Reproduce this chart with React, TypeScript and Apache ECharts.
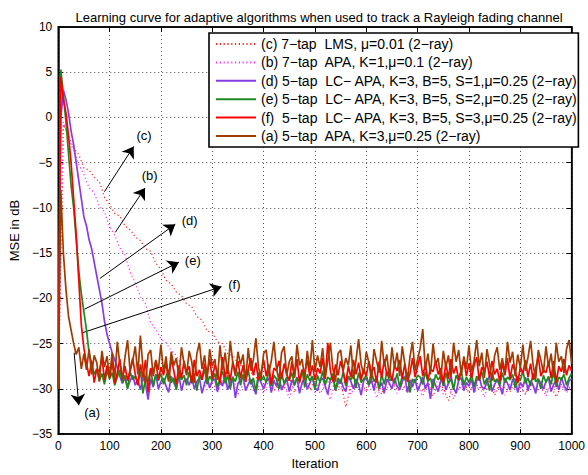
import React, { useEffect, useRef } from "react";
import * as echarts from "echarts";

// Iteration spacing of the sampled curves
const SOLID_STEP = 5;
const DOTTED_STEP = 10;

const xTicks = { min: 0, max: 1000, interval: 100 };
const yTicks = { min: -35, max: 10, interval: 5 };

const seriesNames = [
  "(c) 7\u2212tap  LMS, \u03bc=0.01 (2\u2212ray)",
  "(b) 7\u2212tap  APA, K=1,\u03bc=0.1 (2\u2212ray)",
  "(d) 5\u2212tap  LC\u2212 APA, K=3, B=5, S=1,\u03bc=0.25 (2\u2212ray)",
  "(e) 5\u2212tap  LC\u2212 APA, K=3, B=5, S=2,\u03bc=0.25 (2\u2212ray)",
  "(f)  5\u2212tap  LC\u2212 APA, K=3, B=5, S=3,\u03bc=0.25 (2\u2212ray)",
  "(a) 5\u2212tap  APA, K=3,\u03bc=0.25 (2\u2212ray)",
];

// (c) LMS, sampled every 10 iterations
const lmsC = [
  -30, -0.8, -2.0, -3.4, -4.1, -5.6, -5.8, -6.6, -7.1, -8.8,
  -9.6, -10.6, -10.9, -12.0, -12.4, -13.2, -13.6, -14.5, -14.8, -16.1,
  -16.8, -18.0, -18.4, -19.3, -19.7, -20.6, -20.9, -22.0, -22.4, -23.6,
  -23.8, -24.8, -25.0, -26.1, -26.3, -27.2, -27.6, -28.4, -28.2, -29.1,
  -29.6, -28.8, -30.2, -29.4, -29.9, -28.7, -30.4, -29.3, -29.8, -30.1,
  -29.0, -30.5, -29.6, -28.9, -30.3, -29.2, -32.0, -29.7, -30.0, -29.4,
  -30.2, -29.1, -29.8, -30.6, -29.3, -28.9, -30.1, -29.6, -30.4, -29.0,
  -29.7, -30.3, -29.2, -30.8, -29.5, -29.9, -31.3, -29.4, -30.0, -29.1,
  -30.5, -29.3, -29.8, -30.2, -29.0, -30.7, -29.6, -29.9, -30.3, -29.2,
  -29.8, -30.6, -29.4, -30.0, -29.1, -30.4, -29.7, -30.9, -29.5, -30.1,
  -29.6,
];

// (b) APA K=1, sampled every 10 iterations
const apaK1B = [
  -30, -0.5, -2.3, -3.6, -5.2, -6.3, -7.8, -8.3, -9.8, -10.4,
  -12.1, -13.0, -14.4, -15.2, -17.1, -18.3, -19.8, -20.6, -22.7, -23.4,
  -24.5, -24.9, -25.8, -26.3, -27.4, -28.1, -28.9, -29.6, -28.7, -30.1,
  -29.2, -30.4, -29.0, -29.8, -28.6, -30.6, -29.5, -28.9, -30.2, -29.7,
  -30.5, -29.1, -28.8, -30.3, -29.6, -31.0, -29.2, -30.0, -28.7, -29.9,
  -30.4, -29.3, -29.8, -31.2, -29.0, -30.1, -28.9, -30.6, -29.5, -29.8,
  -30.3, -29.1, -31.0, -29.6, -30.0, -28.8, -30.5, -29.4, -30.2, -29.0,
  -29.7, -30.8, -29.3, -30.1, -28.9, -30.6, -29.5, -31.1, -29.8, -30.0,
  -29.2, -30.4, -29.7, -30.9, -29.0, -30.3, -29.6, -30.7, -29.4, -30.1,
  -29.9, -30.5, -29.1, -30.2, -29.8, -30.8, -29.3, -30.0, -29.6, -30.4,
  -29.8,
];

// (d) LC-APA S=1, sampled every 5 iterations
const lcApaS1D = [
  -30, 0, 3, 2, 0.5, -1.5, -3, -5, -7, -9, -11,
  -12, -13.5, -14.5, -16, -17.5, -19, -20.5, -22.5, -24, -25,
  -26, -26.8, -27.6, -28.6, -29.4, -28.8, -29.9, -29.1, -28.5, -29.6,
  -29.0, -30.1, -28.7, -29.5, -31.2, -28.9, -29.8, -28.4, -30.0, -29.2,
  -28.8, -29.7, -30.4, -28.6, -29.3, -29.9, -28.5, -30.2, -29.1, -28.9,
  -29.6, -28.7, -30.0, -29.2, -28.8, -30.5, -29.4, -28.6, -29.9, -29.1,
  -28.9, -30.3, -29.0, -29.7, -28.5, -30.1, -29.3, -28.8, -31.0, -29.4,
  -29.0, -28.6, -30.2, -29.5, -28.9, -29.8, -30.6, -28.7, -29.3, -30.0,
  -29.2, -28.8, -30.4, -29.1, -29.7, -28.6, -30.1, -29.5, -28.9, -30.3,
  -29.0, -29.6, -28.7, -30.5, -29.3, -28.8, -30.0, -29.4, -28.6, -29.9,
  -30.2, -29.1, -28.8, -29.7, -30.6, -29.0, -28.7, -30.1, -29.4, -28.9,
  -29.8, -30.3, -28.6, -29.2, -30.0, -28.9, -29.5, -30.7, -29.1, -28.8,
  -29.6, -29.0, -30.2, -28.7, -29.9, -29.3, -30.5, -28.9, -29.4, -30.0,
  -28.8, -29.7, -30.1, -29.2, -28.6, -30.4, -29.0, -29.8, -28.9, -30.2,
  -29.5, -28.7, -30.0, -29.3, -31.1, -28.9, -29.6, -30.3, -29.1, -28.8,
  -30.1, -29.4, -28.6, -29.9, -30.5, -29.0, -28.8, -30.2, -29.3, -29.7,
  -28.9, -30.4, -29.1, -28.7, -29.8, -30.0, -29.2, -28.6, -30.3, -29.5,
  -29.0, -29.7, -30.6, -28.8, -29.4, -30.1, -29.0, -28.9, -30.4, -29.3,
  -29.8, -28.7, -30.2, -29.1, -29.6, -30.5, -28.9, -29.4, -30.0, -29.2,
  -28.8, -30.3, -29.5, -29.0, -30.1, -28.7, -29.6, -30.2, -29.1, -28.9,
];

// (e) LC-APA S=2, sampled every 5 iterations
const lcApaS2E = [
  -30, 5.3, 2.5, -0.5, -4, -7.5, -10, -13.5, -17, -19.5, -21.5,
  -23.5, -26, -27.2, -28.4, -27.8, -29.1, -28.3, -29.5, -28.0, -28.9,
  -28.2, -29.6, -28.7, -27.9, -29.3, -28.5, -30.0, -28.1, -29.0, -28.6,
  -29.4, -28.0, -30.5, -28.8, -29.2, -27.8, -29.7, -28.4, -29.1, -28.3,
  -29.5, -28.6, -27.9, -29.3, -28.8, -30.1, -28.2, -29.0, -28.5, -29.6,
  -28.1, -29.4, -28.7, -30.2, -28.4, -29.0, -27.8, -29.5, -28.6, -29.1,
  -28.3, -29.8, -28.9, -28.0, -29.4, -28.5, -30.0, -28.7, -29.2, -28.1,
  -29.6, -28.4, -29.0, -27.9, -29.5, -28.8, -30.3, -28.2, -29.1, -28.6,
  -29.3, -28.0, -29.7, -28.5, -28.9, -30.0, -28.3, -29.4, -28.7, -29.0,
  -28.2, -29.6, -28.8, -29.2, -27.9, -29.8, -28.4, -29.1, -28.6, -30.1,
  -28.5, -29.3, -28.0, -29.5, -28.7, -29.0, -28.3, -30.2, -28.8, -29.4,
  -28.1, -29.7, -28.6, -29.0, -28.4, -29.9, -28.2, -29.3, -28.9, -28.5,
  -29.6, -28.0, -29.2, -28.7, -30.0, -28.4, -29.5, -28.1, -29.1, -28.8,
  -29.4, -28.3, -29.8, -28.6, -29.0, -28.2, -30.4, -28.9, -29.3, -28.5,
  -28.7, -29.5, -28.1, -29.2, -28.8, -29.9, -28.4, -29.0, -28.6, -29.7,
  -28.2, -29.4, -28.9, -30.1, -28.5, -29.1, -28.0, -29.6, -28.7, -29.3,
  -28.4, -29.8, -28.6, -29.0, -28.1, -29.5, -28.8, -30.2, -28.3, -29.2,
  -28.9, -29.6, -28.2, -29.3, -28.7, -29.0, -28.4, -29.9, -28.6, -29.1,
  -28.0, -29.4, -28.8, -29.7, -28.3, -29.2, -28.9, -30.0, -28.5, -29.3,
  -28.6, -29.5, -28.1, -29.8, -28.7, -29.0, -28.4, -29.6, -28.8, -28.3,
];

// (f) LC-APA S=3, sampled every 5 iterations
const lcApaS3F = [
  -30, 4.5, 2, 0.5, -2, -5, -9, -13, -18, -23, -25.5,
  -27.2, -28.6, -26.9, -29.3, -27.8, -28.1, -26.5, -29.0, -27.4, -28.8,
  -27.0, -29.4, -28.2, -26.7, -28.9, -27.5, -29.1, -27.9, -26.6, -28.4,
  -29.6, -27.3, -28.7, -26.8, -30.4, -27.7, -28.3, -26.9, -29.0, -27.6,
  -28.5, -27.1, -29.2, -26.6, -28.0, -29.5, -27.4, -28.8, -26.9, -28.2,
  -27.5, -29.3, -26.8, -28.6, -27.9, -29.0, -27.2, -28.4, -26.7, -28.9,
  -27.3, -28.1, -29.4, -26.5, -28.7, -27.6, -29.1, -27.0, -28.3, -26.9,
  -28.8, -27.4, -29.2, -27.8, -26.6, -28.5, -27.1, -29.0, -28.2, -26.8,
  -28.6, -27.3, -29.5, -27.7, -28.0, -26.9, -28.9, -27.2, -28.4, -29.1,
  -27.0, -28.7, -26.7, -29.3, -27.9, -28.2, -26.8, -28.6, -27.4, -29.0,
  -27.7, -28.3, -26.6, -28.9, -24.9, -28.0, -29.2, -27.3, -28.5, -26.9,
  -28.1, -29.4, -27.5, -28.7, -26.8, -28.4, -27.1, -29.0, -27.8, -28.6,
  -26.9, -28.2, -27.6, -29.3, -27.0, -28.8, -26.7, -28.5, -27.9, -29.1,
  -27.4, -28.0, -26.8, -28.9, -27.2, -29.2, -28.3, -26.6, -28.7, -27.5,
  -26.4, -28.6, -27.3, -29.0, -27.8, -28.1, -26.9, -28.4, -27.7, -29.3,
  -27.1, -28.9, -26.7, -28.3, -27.5, -29.0, -27.9, -26.8, -28.6, -27.2,
  -28.8, -27.4, -26.5, -29.1, -27.6, -28.2, -27.0, -28.7, -26.9, -28.4,
  -27.8, -29.2, -27.1, -28.5, -26.6, -28.9, -27.3, -28.0, -29.4, -27.6,
  -28.3, -26.8, -28.7, -27.2, -29.0, -27.7, -26.4, -28.6, -27.9, -28.2,
  -27.0, -28.8, -26.9, -29.3, -27.5, -28.1, -26.7, -28.5, -27.4, -28.0,
];

// (a) APA K=3, sampled every 5 iterations
const apaK3A = [
  -30, -8, -15, -19, -22, -23.5, -25, -26.2, -25.4, -27.8, -26.1,
  -27.9, -25.6, -28.4, -26.3, -27.1, -29.2, -25.8, -27.6, -26.4, -28.7,
  -26.0, -28.9, -24.8, -27.3, -29.0, -26.5, -24.6, -28.1, -26.9, -25.3,
  -28.4, -24.1, -27.7, -29.4, -26.2, -25.7, -28.6, -26.8, -27.9, -25.1,
  -28.2, -26.4, -29.1, -25.9, -27.4, -26.6, -28.8, -25.4, -27.2, -28.5,
  -25.8, -27.0, -29.3, -26.1, -24.9, -27.8, -26.3, -28.9, -25.6, -27.5,
  -26.7, -29.0, -25.2, -27.9, -26.0, -28.4, -24.7, -27.1, -28.6, -25.9,
  -27.3, -26.2, -29.2, -25.5, -28.0, -26.8, -24.4, -27.6, -28.9, -26.1,
  -25.7, -28.3, -26.9, -24.8, -27.7, -29.1, -26.0, -25.3, -28.5, -27.0,
  -26.4, -28.8, -25.1, -27.4, -26.7, -29.0, -25.8, -27.9, -24.6, -28.1,
  -26.3, -27.6, -25.5, -28.7, -26.9, -24.9, -27.8, -29.2, -26.1, -25.7,
  -28.0, -26.6, -27.4, -25.2, -28.9, -26.8, -24.5, -27.3, -28.4, -25.9,
  -27.1, -29.0, -25.6, -26.9, -28.2, -24.7, -27.5, -26.2, -28.8, -25.4,
  -27.7, -26.0, -28.6, -25.3, -27.2, -29.1, -26.5, -24.8, -28.0, -26.7,
  -25.5, -23.4, -27.9, -26.1, -28.4, -25.0, -27.3, -26.6, -29.0, -25.8,
  -27.6, -26.3, -28.7, -24.9, -27.0, -25.7, -28.5, -26.4, -27.8, -25.2,
  -28.1, -26.9, -24.6, -27.5, -26.0, -28.8, -25.6, -27.2, -29.1, -26.3,
  -25.4, -27.9, -26.6, -28.3, -24.8, -27.1, -25.9, -28.6, -26.2, -27.7,
  -25.1, -28.0, -26.5, -24.7, -27.4, -28.9, -25.7, -26.8, -28.2, -25.3,
  -27.6, -26.1, -28.7, -24.9, -27.0, -26.4, -28.3, -25.6, -24.6, -27.2,
];

// Annotation arrows (data coordinates) and their labels
const arrowLabels = ["(c)", "(b)", "(d)", "(e)", "(f)", "(a)"];
const arrowFrom = [
  [90, -8.2], [111, -12.7], [81, -17.8], [51, -21.2], [47, -23.8], [31, -26.0],
];
const arrowTo = [
  [147, -3.2], [169, -7.8], [228, -11.8], [235, -16.0], [318, -18.7], [40, -31.8],
];
const labelAt = [
  [167, -2.0], [178, -6.4], [256, -11.4], [262, -15.8], [343, -18.5], [66, -32.6],
];

const colors = ["#ff2020", "#ff30ff", "#8a3ae6", "#1e8a1e", "#ff0000", "#a33a00"];

const FONT = "'Liberation Sans', Arial, Helvetica, sans-serif";

function toPairs(vals: number[], step: number) {
  return vals.map((v, i) => [i * step, v]);
}

const minus = (v: number) => (v < 0 ? "\u2212" + Math.abs(v) : String(v));

export default function App() {
  const ref = useRef<HTMLDivElement>(null);
  useEffect(() => {
    if (!ref.current) return;
    const chart = echarts.init(ref.current, undefined, { renderer: "svg" });
    const dataSets = [
      toPairs(lmsC, DOTTED_STEP),
      toPairs(apaK1B, DOTTED_STEP),
      toPairs(lcApaS1D, SOLID_STEP),
      toPairs(lcApaS2E, SOLID_STEP),
      toPairs(lcApaS3F, SOLID_STEP),
      toPairs(apaK3A, SOLID_STEP),
    ];
    const curveSeries = dataSets.map((d, i) => ({
      name: seriesNames[i],
      type: "line",
      data: d,
      symbol: "none",
      silent: true,
      color: colors[i],
      lineStyle:
        i < 2
          ? { color: colors[i], width: 1.2, type: [1.2, 2.6] }
          : { color: colors[i], width: 1.7, type: "solid" },
      z: 2 + i,
    }));
    const axisLabelStyle = { color: "#000", fontSize: 12, fontFamily: FONT };
    const axisNameStyle = { color: "#000", fontSize: 13, fontFamily: FONT };
    chart.setOption({
      animation: false,
      backgroundColor: "#fff",
      textStyle: { fontFamily: FONT },
      title: {
        text: "Learning curve for adaptive algorithms when used to track a Rayleigh fading channel",
        left: 314,
        top: 6,
        textAlign: "center",
        textStyle: { fontSize: 13, fontWeight: "normal", color: "#000", fontFamily: FONT },
      },
      legend: {
        data: seriesNames,
        orient: "vertical",
        left: 209,
        top: 33,
        itemWidth: 40,
        itemHeight: 14,
        itemGap: 4.4,
        padding: [4, 1, 4, 6],
        backgroundColor: "#fff",
        borderColor: "#000",
        borderWidth: 1.6,
        itemStyle: { opacity: 0, borderWidth: 0 },
        textStyle: { fontSize: 14, color: "#000", fontFamily: FONT },
        selectedMode: false,
        z: 20,
      },
      grid: {
        left: 54,
        right: 13,
        top: 27,
        bottom: 38,
        show: true,
        borderColor: "#000",
        borderWidth: 1.5,
        containLabel: false,
      },
      xAxis: [
        {
          type: "value",
          ...xTicks,
          name: "Iteration",
          nameLocation: "middle",
          nameGap: 20,
          nameTextStyle: axisNameStyle,
          axisLine: { show: true, onZero: false, lineStyle: { color: "#000", width: 1.5 } },
          axisTick: { show: true, inside: true, length: 5, lineStyle: { color: "#000" } },
          axisLabel: { ...axisLabelStyle, margin: 6, formatter: (v: number) => String(v) },
          splitLine: { show: true, lineStyle: { color: "#555", width: 1, type: [1, 3] } },
        },
        {
          type: "value",
          ...xTicks,
          position: "top",
          axisLine: { show: true, onZero: false, lineStyle: { color: "#000", width: 1.5 } },
          axisTick: { show: true, inside: true, length: 5, lineStyle: { color: "#000" } },
          axisLabel: { show: false },
          splitLine: { show: false },
        },
      ],
      yAxis: [
        {
          type: "value",
          ...yTicks,
          name: "MSE in dB",
          nameLocation: "middle",
          nameGap: 34,
          nameTextStyle: axisNameStyle,
          axisLine: { show: true, onZero: false, lineStyle: { color: "#000", width: 1.5 } },
          axisTick: { show: true, inside: true, length: 5, lineStyle: { color: "#000" } },
          axisLabel: { ...axisLabelStyle, margin: 6, formatter: minus },
          splitLine: { show: true, lineStyle: { color: "#555", width: 1, type: [1, 3] } },
        },
        {
          type: "value",
          ...yTicks,
          position: "right",
          axisLine: { show: true, onZero: false, lineStyle: { color: "#000", width: 1.5 } },
          axisTick: { show: true, inside: true, length: 5, lineStyle: { color: "#000" } },
          axisLabel: { show: false },
          splitLine: { show: false },
        },
      ],
      series: [
        ...curveSeries,
        {
          name: "arrows",
          type: "line",
          data: [],
          silent: true,
          symbol: "none",
          markLine: {
            silent: true,
            symbol: ["none", "arrow"],
            symbolSize: 11,
            label: { show: false },
            lineStyle: { color: "#000", width: 1, type: "solid" },
            itemStyle: { color: "#000" },
            data: arrowFrom.map((f, i) => [{ coord: f }, { coord: arrowTo[i] }]),
          },
          z: 15,
        },
      ],
    });
    const labelGraphics = labelAt.map((p, i) => {
      const [px, py] = chart.convertToPixel({ gridIndex: 0 }, p) as number[];
      return {
        type: "text",
        x: px,
        y: py,
        z: 30,
        silent: true,
        style: {
          text: arrowLabels[i],
          fill: "#000",
          font: `13px ${FONT}`,
          textAlign: "center",
          textVerticalAlign: "middle",
        },
      };
    });
    chart.setOption({ graphic: labelGraphics });
    return () => chart.dispose();
  }, []);
  return (
    <div
      ref={ref}
      style={{ position: "fixed", left: 0, top: 0, width: 588, height: 475, background: "#fff" }}
    />
  );
}
